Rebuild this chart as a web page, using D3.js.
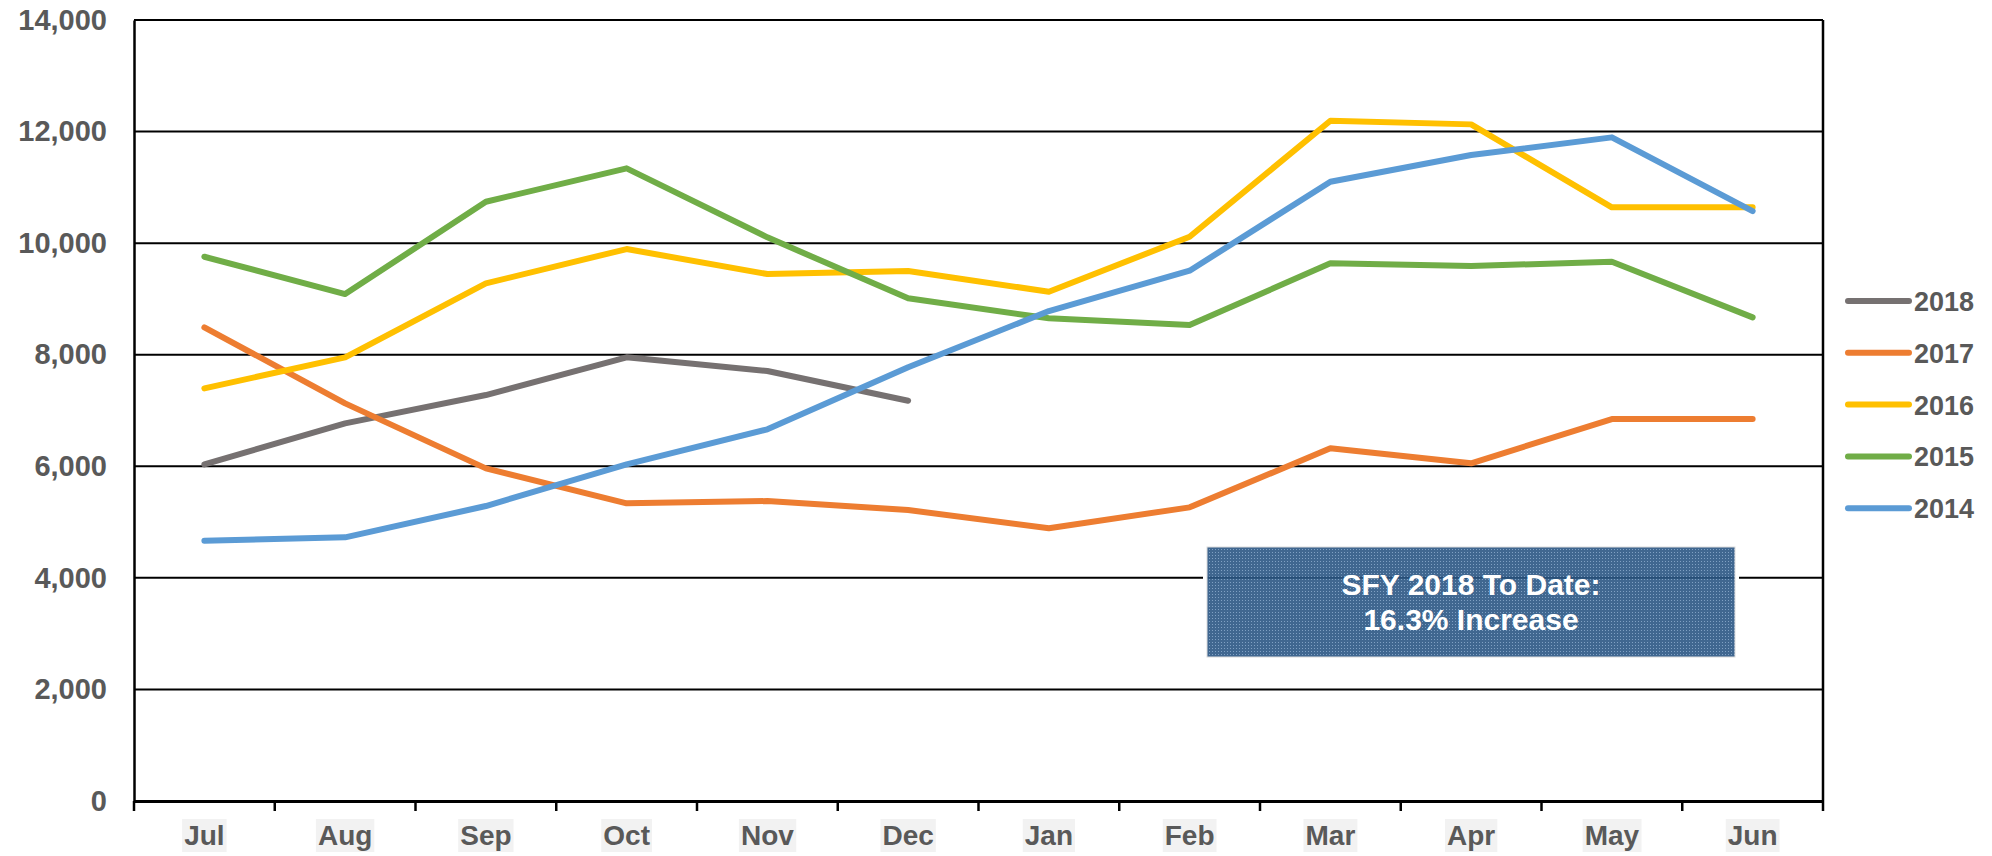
<!DOCTYPE html>
<html>
<head>
<meta charset="utf-8">
<script src="https://cdn.jsdelivr.net/npm/d3@7"></script>
<style>
  body { margin: 0; background: #fff; }
  text { font-family: "Liberation Sans", Arial, sans-serif; font-weight: bold; }
</style>
</head>
<body>
<div id="chart"></div>
<script>
// months of the state fiscal year
var months = ["Jul", "Aug", "Sep", "Oct", "Nov", "Dec", "Jan", "Feb", "Mar", "Apr", "May", "Jun"];
var yTicks = [0, 2000, 4000, 6000, 8000, 10000, 12000, 14000];

var s2018 = [6035, 6770, 7277, 7953, 7708, 7175];
var s2017 = [8490, 7128, 5963, 5336, 5377, 5216, 4888, 5264, 6322, 6053, 6847, 6847];
var s2016 = [7397, 7953, 9279, 9894, 9446, 9500, 9129, 10115, 12194, 12129, 10642, 10642];
var s2015 = [9756, 9087, 10742, 11341, 10104, 9011, 8652, 8532, 9638, 9590, 9667, 8670];
var s2014 = [4666, 4726, 5288, 6035, 6662, 7774, 8783, 9506, 11101, 11579, 11896, 10575];

var seriesNames = ["2018", "2017", "2016", "2015", "2014"];
var seriesColors = ["#767171", "#ED7D31", "#FFC000", "#70AD47", "#5B9BD5"];

var noteLines = ["SFY 2018 To Date:", "16.3% Increase"];

var series = [s2018, s2017, s2016, s2015, s2014];

var width = 1992, height = 856;
var margin = {left: 134, right: 169, top: 20, bottom: 55};
var plotW = width - margin.left - margin.right;
var plotH = height - margin.top - margin.bottom;

var svg = d3.select("#chart").append("svg")
    .attr("width", width)
    .attr("height", height);

// dotted fill used by the note box
var defs = svg.append("defs");
var pat = defs.append("pattern")
    .attr("id", "dots")
    .attr("width", 3).attr("height", 3)
    .attr("patternUnits", "userSpaceOnUse");
pat.append("rect").attr("width", 3).attr("height", 3).attr("fill", "#2b5784");
pat.append("rect").attr("x", 1).attr("y", 1).attr("width", 1).attr("height", 1).attr("fill", "#7196bd");

var x = d3.scaleBand().domain(months).range([0, plotW]);
var y = d3.scaleLinear().domain([0, 14000]).range([plotH, 0]);

var g = svg.append("g").attr("transform", "translate(" + margin.left + "," + margin.top + ")");

// horizontal grid lines
g.append("g")
    .selectAll("line")
    .data(yTicks.filter(function (d) { return d > 0; }))
    .enter().append("line")
    .attr("x1", 0).attr("x2", plotW)
    .attr("y1", function (d) { return y(d); })
    .attr("y2", function (d) { return y(d); })
    .attr("stroke", "#000")
    .attr("stroke-width", 2);

// right border
g.append("line")
    .attr("x1", plotW).attr("x2", plotW)
    .attr("y1", 0).attr("y2", plotH)
    .attr("stroke", "#000").attr("stroke-width", 2.5);

// y axis
var yAxis = g.append("g")
    .call(d3.axisLeft(y).tickValues(yTicks).tickSize(0).tickPadding(27).tickFormat(d3.format(",")));
yAxis.select(".domain").attr("stroke", "#000").attr("stroke-width", 2.5);
yAxis.selectAll("text")
    .attr("fill", "#595959")
    .style("font-size", "29px");

// x axis
var xAxis = g.append("g")
    .attr("transform", "translate(0," + plotH + ")")
    .call(d3.axisBottom(x).tickSize(0).tickPadding(24));
xAxis.select(".domain").attr("stroke", "#000").attr("stroke-width", 3);
xAxis.selectAll("text")
    .attr("fill", "#595959")
    .style("font-size", "28px");

// tick marks between categories
xAxis.append("g")
    .selectAll("line")
    .data(d3.range(months.length + 1))
    .enter().append("line")
    .attr("x1", function (i) { return i * x.step(); })
    .attr("x2", function (i) { return i * x.step(); })
    .attr("y1", 0).attr("y2", 10)
    .attr("stroke", "#000").attr("stroke-width", 2.5);

// light gray backing behind month labels
xAxis.selectAll(".tick").each(function () {
    var t = d3.select(this).select("text");
    var bb = t.node().getBBox();
    d3.select(this).insert("rect", "text")
        .attr("x", bb.x - 2)
        .attr("y", 18)
        .attr("width", bb.width + 4)
        .attr("height", 33)
        .attr("fill", "#f2f2f2");
});

// note box
var boxX = 1207 - margin.left, boxY = 547 - margin.top, boxW = 528, boxH = 110;
g.append("rect")
    .attr("x", boxX - 2).attr("y", boxY - 2)
    .attr("width", boxW + 4).attr("height", boxH + 4)
    .attr("fill", "none")
    .attr("stroke", "#fff").attr("stroke-width", 4);
g.append("rect")
    .attr("x", boxX).attr("y", boxY)
    .attr("width", boxW).attr("height", boxH)
    .attr("fill", "url(#dots)")
    .attr("fill-opacity", 0.9)
    .attr("stroke", "#dcdcdc").attr("stroke-width", 1);
g.append("g")
    .selectAll("text")
    .data(noteLines)
    .enter().append("text")
    .attr("x", boxX + boxW / 2)
    .attr("y", function (d, i) { return boxY + 48 + i * 35; })
    .attr("text-anchor", "middle")
    .attr("fill", "#fff")
    .style("font-size", "30px")
    .text(function (d) { return d; });

// series lines, 2014 drawn last so it sits on top
var line = d3.line()
    .x(function (d, i) { return x(months[i]) + x.bandwidth() / 2; })
    .y(function (d) { return y(d); });

g.append("g")
    .selectAll("path")
    .data(series)
    .enter().append("path")
    .attr("d", line)
    .attr("fill", "none")
    .attr("stroke", function (d, i) { return seriesColors[i]; })
    .attr("stroke-width", 6)
    .attr("stroke-linecap", "round")
    .attr("stroke-linejoin", "round");

// legend
var legend = svg.append("g").attr("transform", "translate(1848,301)");
var items = legend.selectAll("g")
    .data(seriesNames)
    .enter().append("g")
    .attr("transform", function (d, i) { return "translate(0," + i * 51.8 + ")"; });
items.append("line")
    .attr("x1", 0).attr("x2", 61)
    .attr("y1", 0).attr("y2", 0)
    .attr("stroke", function (d, i) { return seriesColors[i]; })
    .attr("stroke-width", 6)
    .attr("stroke-linecap", "round");
items.append("text")
    .attr("x", 66)
    .attr("y", 10)
    .attr("fill", "#595959")
    .style("font-size", "27px")
    .text(function (d) { return d; });
</script>
</body>
</html>
